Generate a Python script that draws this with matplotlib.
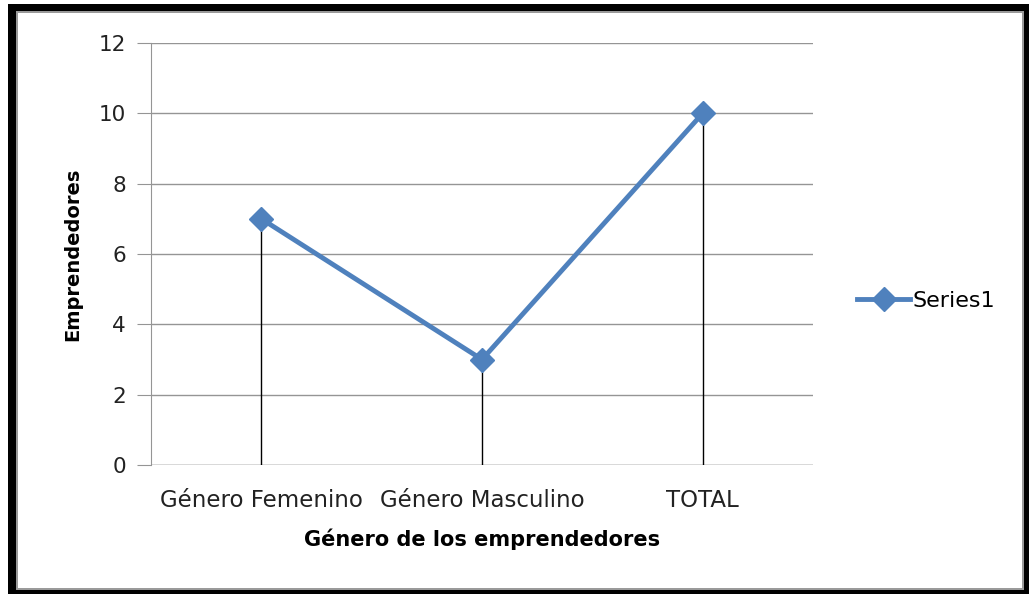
import matplotlib
matplotlib.use("Agg")
import matplotlib.pyplot as plt
from matplotlib.patches import Rectangle
from matplotlib.lines import Line2D

categories = ["Género Femenino", "Género Masculino", "TOTAL"]
values = [7, 3, 10]
yticks = [0, 2, 4, 6, 8, 10, 12]
series_name = "Series1"

W, H = 1029, 594
fig = plt.figure(figsize=(W / 100, H / 100), dpi=100)
plt.rcParams['font.family'] = ['DejaVu Sans']
FS_TICK = 16.5
FS_Y = 15.5
FS_LAB = 15
FS_LEG = 16

def fr(x0, y0, x1, y1):
    return (x0 / W, 1 - y1 / H), (x1 - x0) / W, (y1 - y0) / H

for (x0, y0, x1, y1), c in [((8, 4, 1029, 594), "black"),
                            ((16, 11, 1024, 590), "#9a9a9a"),
                            ((18, 13, 1022, 588), "white")]:
    xy, w, h = fr(x0, y0, x1, y1)
    fig.patches.append(Rectangle(xy, w, h, transform=fig.transFigure,
                                 facecolor=c, edgecolor="none", zorder=-10))

ax_l, ax_r, ax_t, ax_b = 151, 813, 43, 465
ax = fig.add_axes([ax_l / W, 1 - ax_b / H, (ax_r - ax_l) / W, (ax_b - ax_t) / H])
ax.set_facecolor("none")

x = list(range(len(categories)))
ax.vlines(x, 0, values, color="black", linewidth=1.0, zorder=2)
ax.plot(x, values, color="#4F81BD", linewidth=3.5, marker="D", markersize=12,
        markeredgecolor="#4F81BD", zorder=3)

ax.set_xlim(-0.5, len(categories) - 0.5)
ax.set_ylim(0, 12)
ax.set_yticks(yticks)
ax.set_yticklabels([str(t) for t in yticks], fontsize=FS_Y, color="#222222")
ax.set_xticks(x)
ax.set_xticklabels(categories, fontsize=FS_TICK, color="#222222")
ax.grid(axis="y", color="#959595", linewidth=1.0, zorder=0)
ax.set_axisbelow(True)
for s in ["top", "right", "bottom"]:
    ax.spines[s].set_visible(False)
ax.spines["left"].set_color("#959595")
ax.tick_params(axis="y", length=10, color="#959595", pad=8)
ax.tick_params(axis="x", length=0, pad=17)
ax.axhline(0, color="#959595", linewidth=1.0, zorder=1)

ax.set_ylabel("Emprendedores", fontsize=14, fontweight="bold", labelpad=12)
ax.set_xlabel("Género de los emprendedores", fontsize=FS_LAB, fontweight="bold", labelpad=12)

handle = Line2D([], [], color="#4F81BD", linewidth=3.5, marker="D", markersize=12)
fig.legend([handle], [series_name], loc="center left", bbox_to_anchor=(846 / W, 1 - 301 / H),
           frameon=False, fontsize=FS_LEG, handlelength=2.4, handletextpad=0.1, borderpad=0)

fig.savefig("out.png", dpi=100)
